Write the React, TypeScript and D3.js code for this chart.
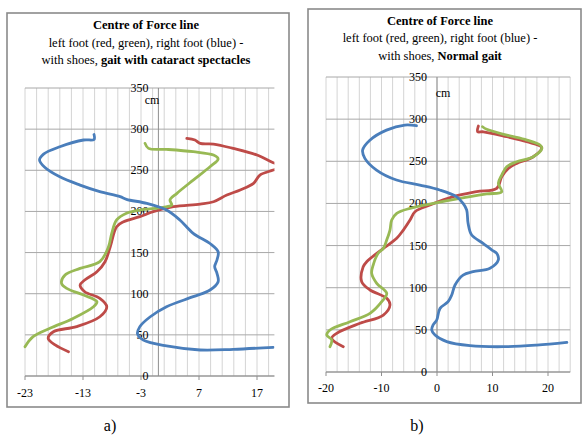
import React from "react";
import * as d3 from "d3";

type P = [number, number];

// ---------- Panel a: gait with cataract spectacles ----------
const aBlue: P[] = [[-11.1,293.5],[-11.1,287.5],[-12.9,286.8],[-17,278.6],[-19.8,269.7],[-20.5,262.4],[-19.6,253.6],[-17,242],[-13.5,232],[-10.1,224],[-6.6,218],[-5.5,214.7],[-2,209.8],[1.4,201.7],[3.7,189.6],[6,173.4],[8.9,161],[10.3,151],[10.1,141],[9.7,133],[10.1,124.8],[10.3,114.6],[8.9,104.5],[6,96.4],[1.4,84.2],[-1.4,72],[-3.2,60],[-3.6,51],[-2.6,43.7],[1.4,36.5],[7.2,31.6],[12.9,32.4],[19.8,34.9]];
const aGreen: P[] = [[-2.3,282.7],[-1.7,276.6],[1.4,275.4],[6,272.6],[9.5,268.5],[10.3,263.7],[8.9,254.3],[6,238],[3.2,222],[2,213.9],[2.3,207.8],[0.8,205],[-3.2,201.7],[-5.5,197.7],[-7.2,189.6],[-8.05,173.4],[-8.6,157],[-10.1,138.9],[-13.5,130.8],[-16.1,122.7],[-16.7,112.6],[-15.8,106.5],[-12.9,98.4],[-10.6,90.3],[-11.2,84.2],[-14.7,70],[-18.7,58],[-21.6,47.8],[-23,35.6]];
const aRed: P[] = [[4.9,288.8],[6.3,286.8],[7.2,282.7],[9.5,281.9],[12.9,276.6],[17,268.5],[19.8,259.2],[21.5,255],[19.8,250.3],[17.5,244.2],[16.4,234.1],[14.1,226],[11.8,219.9],[9.5,211.8],[7.2,209],[2.6,205.7],[-0.9,199.7],[-3.2,193.6],[-6,187.5],[-7.2,181.4],[-8.3,157],[-9.2,138.9],[-10.6,126.7],[-12.7,116.6],[-13.5,110.6],[-12.7,102.4],[-10.1,94.4],[-8.9,84.2],[-10.1,72],[-14.1,60],[-18.1,53.8],[-19,45.8],[-17.8,37.7],[-15.5,29.5]];
const aXTicks = [-23, -13, -3, 7, 17];
const aTitle = ["Centre of Force line", "left foot (red, green), right foot (blue) -"];
const aTitle3 = ["with shoes, ", "gait with cataract spectacles"];

// ---------- Panel b: normal gait ----------
const bBlue: P[] = [[-3.7,292.2],[-5.8,293],[-9.1,287],[-12.1,275],[-13.4,263.3],[-13,253.5],[-10.9,239.6],[-7.3,227.8],[-3.1,221.8],[0.5,215.9],[3.5,208],[4.7,200.1],[5.35,192.2],[5.6,176.4],[6.25,162.5],[8.3,152.7],[9.9,144.7],[10.75,140.8],[11.05,132.9],[9.55,123],[6.5,119],[4.7,115],[3.25,103.2],[2.65,91.3],[2.0,83.4],[0.55,75.5],[-0.05,61.7],[-0.7,55.8],[-0.95,49.8],[-0.36,43.9],[1.75,36],[5.95,31.2],[11.95,30],[17.96,32],[23.4,35.2]];
const bGreen: P[] = [[8.2,291],[8.95,287.9],[12.56,281.1],[16.2,275.2],[18.56,269.3],[18.9,265.4],[17.35,255.4],[14.36,249.5],[12.56,243.5],[11.66,233.7],[11.05,223.8],[11.66,213.9],[8.95,211.2],[4.14,206],[-0.67,200.1],[-4.86,194.2],[-7.26,188.2],[-8.16,180.3],[-8.47,168.4],[-9.06,156.6],[-9.67,146.7],[-10.6,140.8],[-11.5,126.9],[-11.77,117],[-10.86,105.2],[-9.06,93.4],[-9.96,83.4],[-12.07,69.6],[-15.68,59.7],[-19.28,49.8],[-19.87,43.9],[-18.97,38],[-19.28,30]];
const bRed: P[] = [[7.45,291.8],[7.33,285],[8.35,285],[12.56,279.1],[16.16,273.2],[18.86,266.5],[17.35,255.4],[14.36,247.5],[12.85,241.6],[11.66,231.7],[10.76,217.9],[7.15,213.9],[2.94,208],[-1.26,198.1],[-3.96,190.2],[-4.86,180.3],[-6.07,168.4],[-7.26,158.6],[-10,145],[-12.67,130.8],[-13.3,124.9],[-13.57,107.1],[-12.07,97.3],[-9.06,87.4],[-8.47,79.5],[-9.67,67.6],[-13.87,57.8],[-18.07,45.9],[-18.97,40],[-16.88,30]];
const bXTicks = [-20, -10, 0, 10, 20];
const bTitle = ["Centre of Force line", "left foot (red, green), right foot (blue) -"];
const bTitle3 = ["with shoes, ", "Normal gait"];

const yTicks = [0, 50, 100, 150, 200, 250, 300, 350];

const BLUE = "#4a7ebb";
const RED = "#be4b48";
const GREEN = "#98b954";
const FONT = "Liberation Serif, DejaVu Serif, Times New Roman, serif";

interface PanelCfg {
  id: string;
  frame: { x: number; y: number; w: number; h: number };
  xDomain: [number, number];
  xRange: [number, number];
  yRange: [number, number];
  xTicks: number[];
  title: string[];
  title3: string[];
  titleX: number;
  titleY: number[];
  cm: [number, number];
  xLabelY: number;
  letter: string;
  letterX: number;
  series: { data: P[]; color: string }[];
}

function Panel({ c }: { c: PanelCfg }) {
  const x = d3.scaleLinear().domain(c.xDomain).range(c.xRange);
  const y = d3.scaleLinear().domain([0, 350]).range(c.yRange);
  const line = d3
    .line<P>()
    .x((d) => x(d[0]))
    .y((d) => y(d[1]))
    .curve(d3.curveCatmullRom.alpha(0.5));
  const minor = d3.range(c.xDomain[0], c.xDomain[1] + 0.001, 2);
  const x0 = x(0);
  return (
    <g style={{ fontFamily: FONT }}>
      <rect x={c.frame.x} y={c.frame.y} width={c.frame.w} height={c.frame.h} fill="#fff" stroke="#8a8a8a" strokeWidth={1.6} />
      {c.title.map((t, i) => (
        <text key={i} x={c.titleX} y={c.titleY[i]} textAnchor="middle" fontSize={12.5} fontWeight={i === 0 ? "bold" : "normal"} fill="#000">
          {t}
        </text>
      ))}
      <text x={c.titleX} y={c.titleY[2]} textAnchor="middle" fontSize={12.5} fill="#000">
        {c.title3[0]}
        <tspan fontWeight="bold">{c.title3[1]}</tspan>
      </text>
      {minor.map((v) => (
        <line key={"v" + v} x1={x(v)} x2={x(v)} y1={y(0)} y2={y(350)} stroke="#d4d4d4" strokeWidth={1} />
      ))}
      {yTicks.map((v) => (
        <line key={"h" + v} x1={c.xRange[0]} x2={c.xRange[1]} y1={y(v)} y2={y(v)} stroke="#a8a8a8" strokeWidth={1} />
      ))}
      <line x1={x0} x2={x0} y1={y(0)} y2={y(350)} stroke="#8f8f8f" strokeWidth={1} />
      <line x1={c.xRange[0]} x2={c.xRange[1]} y1={y(0)} y2={y(0)} stroke="#8f8f8f" strokeWidth={1} />
      {c.xTicks.map((v) => (
        <line key={"t" + v} x1={x(v)} x2={x(v)} y1={y(0)} y2={y(0) + 4} stroke="#8f8f8f" strokeWidth={1} />
      ))}
      {c.xTicks.map((v) => (
        <text key={"xl" + v} x={x(v)} y={c.xLabelY} textAnchor="middle" fontSize={12} fill="#000">
          {v}
        </text>
      ))}
      {yTicks.map((v) => (
        <text key={"yl" + v} x={x0 - 10} y={y(v) + 4} textAnchor="end" fontSize={12} fill="#000">
          {v}
        </text>
      ))}
      <text x={c.cm[0]} y={c.cm[1]} textAnchor="middle" fontSize={12} fill="#000">
        cm
      </text>
      <clipPath id={"clip" + c.id}>
        <rect x={c.xRange[0] - 2} y={c.yRange[1] - 2} width={c.xRange[1] - c.xRange[0] + 2} height={c.yRange[0] - c.yRange[1] + 4} />
      </clipPath>
      <g clipPath={`url(#clip${c.id})`}>
        {c.series.map((s, i) => (
          <path key={i} d={line(s.data) || ""} fill="none" stroke={s.color} strokeWidth={2.8} strokeLinejoin="round" strokeLinecap="round" />
        ))}
      </g>
      <text x={c.letterX} y={431} textAnchor="middle" fontSize={16} fill="#000">
        {c.letter}
      </text>
    </g>
  );
}

const panelA: PanelCfg = {
  id: "a",
  frame: { x: 7, y: 13, w: 282, h: 394 },
  xDomain: [-23, 20],
  xRange: [25, 274.4],
  yRange: [376, 88],
  xTicks: aXTicks,
  title: aTitle,
  title3: aTitle3,
  titleX: 146,
  titleY: [29, 46.5, 64],
  cm: [152, 104],
  xLabelY: 397,
  letter: "a)",
  letterX: 110,
  series: [
    { data: aRed, color: RED },
    { data: aGreen, color: GREEN },
    { data: aBlue, color: BLUE },
  ],
};

const panelB: PanelCfg = {
  id: "b",
  frame: { x: 308, y: 9, w: 273, h: 394 },
  xDomain: [-20, 24],
  xRange: [326, 570.2],
  yRange: [372, 77],
  xTicks: bXTicks,
  title: bTitle,
  title3: bTitle3,
  titleX: 440,
  titleY: [25, 42, 59.5],
  cm: [443, 97],
  xLabelY: 392,
  letter: "b)",
  letterX: 417,
  series: [
    { data: bRed, color: RED },
    { data: bGreen, color: GREEN },
    { data: bBlue, color: BLUE },
  ],
};

export default function App() {
  return (
    <svg width={582} height={435} style={{ position: "absolute", left: 0, top: 0, background: "#fff" }}>
      <rect width={582} height={435} fill="#fff" />
      <Panel c={panelA} />
      <Panel c={panelB} />
    </svg>
  );
}
